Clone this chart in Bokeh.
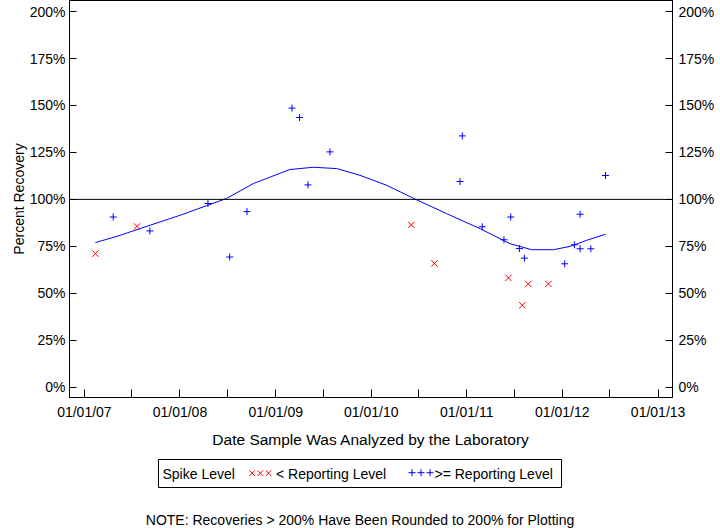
import pandas as pd
from bokeh.plotting import figure
from bokeh.layouts import column
from bokeh.core.properties import value
from bokeh.models import (Range1d, FixedTicker, DatetimeTickFormatter, LinearAxis,
                          PrintfTickFormatter, Span)
from bokeh.embed import file_html
from bokeh.resources import INLINE

# ---- data ----
below_dates = ["2007-02-12", "2007-07-21", "2010-06-03", "2010-08-30",
               "2011-06-09", "2011-08-01", "2011-08-24", "2011-11-09"]
below_values = [71.1, 85.6, 86.4, 65.9, 58.2, 43.6, 55.0, 55.0]

above_dates = ["2007-04-21", "2007-09-08", "2008-04-17", "2008-07-09", "2008-09-13",
               "2009-03-04", "2009-04-02", "2009-05-04", "2009-07-27", "2010-12-06",
               "2010-12-15", "2011-03-01", "2011-05-23", "2011-06-18", "2011-07-21",
               "2011-08-09", "2012-01-10", "2012-02-16", "2012-03-09", "2012-03-09",
               "2012-04-19", "2012-06-14"]
above_values = [90.6, 83.2, 97.8, 69.3, 93.5,
                148.6, 143.6, 107.7, 125.3, 109.5,
                133.8, 85.4, 78.5, 90.6, 73.8,
                68.7, 65.7, 75.8, 92.1, 73.7,
                73.7, 112.7]

trend_dates = ["2007-02-12", "2007-05-05", "2007-07-21", "2007-10-17", "2008-01-01",
               "2008-04-17", "2008-06-27", "2008-10-07", "2009-02-24", "2009-05-24",
               "2009-08-22", "2009-11-19", "2010-03-01", "2010-06-17", "2010-10-16",
               "2011-02-21", "2011-06-15", "2011-09-06", "2011-11-28", "2012-02-01",
               "2012-04-03", "2012-06-14"]
trend_values = [77.0, 80.3, 83.9, 88.0, 91.5,
                96.9, 100.5, 108.4, 115.9, 117.1,
                116.4, 112.8, 107.5, 100.2, 92.4,
                84.4, 76.4, 73.2, 73.2, 75.0,
                78.2, 81.4]

reference_level = 100
y_ticks = [0, 25, 50, 75, 100, 125, 150, 175, 200]
x_tick_dates = ["2007-01-01", "2008-01-01", "2009-01-01", "2010-01-01",
                "2011-01-01", "2012-01-01", "2013-01-01"]
x_minor_dates = ["2007-07-01", "2008-07-01", "2009-07-01", "2010-07-01",
                 "2011-07-01", "2012-07-01"]
x_limits = ["2006-11-05", "2013-02-25"]
y_limits = [-5.5, 205.9]

legend_title = "Spike Level"
legend_labels = ["< Reporting Level", ">= Reporting Level"]
note_text = "NOTE: Recoveries > 200% Have Been Rounded to 200% for Plotting"


def ms(d):
    return pd.Timestamp(d).timestamp() * 1000.0


FONT = "Liberation Sans"
FRAME_L, FRAME_R = 69, 672

p = figure(width=720, height=455, x_axis_type="datetime",
           x_range=Range1d(ms(x_limits[0]), ms(x_limits[1])),
           y_range=Range1d(y_limits[0], y_limits[1]),
           output_backend="svg", toolbar_location=None,
           min_border_left=FRAME_L, min_border_right=720 - FRAME_R, min_border_top=0,
           min_border_bottom=58)
p.xgrid.visible = False
p.ygrid.visible = False
p.outline_line_color = "black"
p.outline_line_width = 1
p.background_fill_color = "white"
p.border_fill_color = "white"

# x axis
xa = p.xaxis[0]
xa.ticker = FixedTicker(ticks=[ms(d) for d in x_tick_dates],
                        minor_ticks=[ms(d) for d in x_minor_dates])
fmt = "%m/%d/%y"
xa.formatter = DatetimeTickFormatter(microseconds=fmt, milliseconds=fmt, seconds=fmt,
                                     minsec=fmt, minutes=fmt, hourmin=fmt, hours=fmt,
                                     days=fmt, months=fmt, years=fmt)
xa.axis_label = "Date Sample Was Analyzed by the Laboratory"

# y axes
ya = p.yaxis[0]
ya.axis_label = "Percent Recovery"
ra = LinearAxis()
p.add_layout(ra, "right")
for ax in (ya, ra):
    ax.ticker = FixedTicker(ticks=y_ticks, minor_ticks=[])
    ax.formatter = PrintfTickFormatter(format="%d%%")

for ax in (xa, ya, ra):
    ax.axis_line_color = "black"
    ax.major_tick_line_color = "black"
    ax.minor_tick_line_color = "black"
    ax.major_tick_out = 0
    ax.minor_tick_out = 0
    ax.major_label_text_font = FONT
    ax.major_label_text_font_size = "14px"
    ax.major_label_text_color = "black"
    ax.axis_label_text_font = FONT
    ax.axis_label_text_font_style = "normal"
    ax.axis_label_text_color = "black"

xa.major_tick_in = 8
xa.minor_tick_in = 8
xa.major_label_standoff = 6
xa.axis_label_text_font_size = "15.5px"
xa.axis_label_standoff = 8
ya.major_tick_in = 7
ya.minor_tick_in = 0
ya.major_label_standoff = 4
ya.axis_label_text_font_size = "14px"
ya.axis_label_standoff = 0
ra.major_tick_in = 7
ra.minor_tick_in = 0
ra.major_label_standoff = 6

# reference line
p.add_layout(Span(location=reference_level, dimension="width",
                  line_color="black", line_width=1))

# trend line
p.line(pd.to_datetime(trend_dates), trend_values, line_color="blue", line_width=1)

# points
p.scatter(pd.to_datetime(below_dates), below_values, marker="x", size=9,
          line_color="red", line_width=1)
p.scatter(pd.to_datetime(above_dates), above_values, marker="cross", size=7,
          line_color="blue", line_width=1)

# ---- legend + note strip (page-pixel coordinates, y grows downward) ----
TOP = 455
q = figure(width=720, height=528 - TOP,
           x_range=Range1d(FRAME_L, FRAME_R), y_range=Range1d(528, TOP),
           output_backend="svg", toolbar_location=None,
           x_axis_location=None, y_axis_location=None,
           min_border_left=FRAME_L, min_border_right=720 - FRAME_R,
           min_border_top=0, min_border_bottom=0)
q.grid.visible = False
q.outline_line_color = None
q.background_fill_color = "white"
q.border_fill_color = "white"

q.quad(left=[158], right=[561], top=[459], bottom=[487], fill_color=None,
       line_color="black", line_width=1)
q.scatter(x=[251.7, 259.9, 268.0], y=[472.7] * 3, marker="x", size=8,
          line_color="red", line_width=1)
q.scatter(x=[411.5, 420.5, 429.5], y=[472.2] * 3, marker="cross", size=7,
          line_color="blue", line_width=1)
q.text(x=[162, 275.5, 434], y=[473.7] * 3,
       text=[legend_title, legend_labels[0], legend_labels[1]],
       text_font=value(FONT), text_font_size=value("14px"), text_color="black",
       text_align="left", text_baseline="middle")
q.text(x=[359.5], y=[519.2], text=[note_text],
       text_font=value(FONT), text_font_size=value("14px"), text_color="black",
       text_align="center", text_baseline="middle")

layout = column(p, q, spacing=0)
open("out.html", "w").write(file_html(layout, INLINE))
